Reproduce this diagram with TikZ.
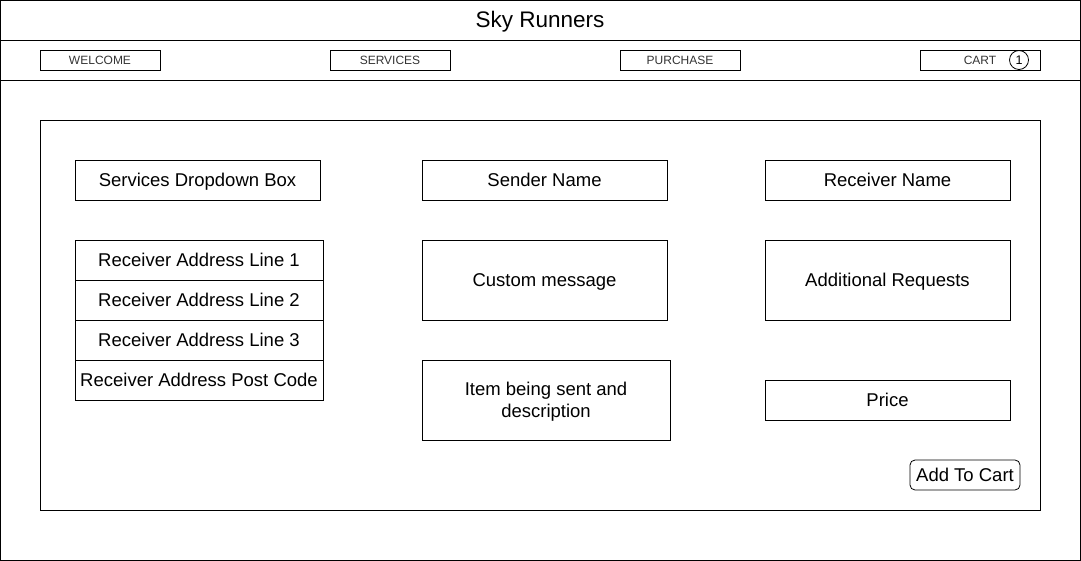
\documentclass[tikz,border=0pt]{standalone}
\usepackage{fontspec}
\setmainfont{Liberation Sans}
\usetikzlibrary{calc}
\definecolor{navtext}{HTML}{333333}
\tikzset{
  field/.style={draw, line width=0.8pt, fill=white, inner sep=1pt, align=center, font=\fontsize{18.5}{21}\selectfont},
  oneline/.style={field, text height=13.3pt, text depth=0pt},
  navbtn/.style={draw, line width=0.8pt, minimum width=120pt, minimum height=20pt, inner sep=0pt, text=navtext, font=\fontsize{12}{14}\selectfont},
}
\begin{document}
\begin{tikzpicture}[x=1pt, y=-1pt]
        \useasboundingbox (0,0) rectangle (1081,561);
        \coordinate (TL) at (0.5, 0.5) {};
        \coordinate (BR) at (1080.5, 560.5) {};
        \draw[line width=0.8pt] (TL) rectangle (BR);
        \draw[line width=0.8pt] (0.5,40)--(1080.5,40);
        \draw[line width=0.8pt] (0.5,80)--(1080.5,80);
        \node[text height=16pt, text depth=0pt, inner sep=0pt, font=\fontsize{22.5}{26}\selectfont] (title) at (540, 20) {Sky Runners};
% navigation bar
        \node[navbtn, text height=8.6pt, text depth=0pt] (welcome) at (100, 60) {WELCOME};
        \node[navbtn, text height=8.6pt, text depth=0pt] (services) at (390, 60) {SERVICES};
        \node[navbtn, text height=8.6pt, text depth=0pt] (purchase) at (680, 60) {PURCHASE};
        \node[navbtn] (cart) at (980, 60) {};
        \node[text=navtext, text height=8.6pt, text depth=0pt, inner sep=0pt, font=\fontsize{12}{14}\selectfont] (carttext) at (980, 60) {CART};
        \node[draw, circle, line width=0.8pt, minimum size=19pt, inner sep=0pt, font=\fontsize{12.5}{14}\selectfont] (count) at (1019, 60) {1};
% form panel
        \coordinate (P1) at (40, 120) {};
        \coordinate (P2) at (1040, 510) {};
        \draw[line width=0.8pt] (P1) rectangle (P2);
        \node[oneline, minimum width=245pt, minimum height=40pt] (dropdown) at (197.5, 180) {Services Dropdown Box};
        \node[oneline, minimum width=245pt, minimum height=40pt] (sender) at (544.5, 180) {Sender Name};
        \node[oneline, minimum width=245pt, minimum height=40pt] (receiver) at (887.5, 180) {Receiver Name};
        \node[oneline, minimum width=248pt, minimum height=40pt] (addr1) at (199, 260) {Receiver Address Line 1};
        \node[oneline, minimum width=248pt, minimum height=40pt] (addr2) at (199, 300) {Receiver Address Line 2};
        \node[oneline, minimum width=248pt, minimum height=40pt] (addr3) at (199, 340) {Receiver Address Line 3};
        \node[oneline, minimum width=248pt, minimum height=40pt] (postcode) at (199, 380) {Receiver Address Post Code};
        \node[oneline, minimum width=245pt, minimum height=80pt] (message) at (544.5, 280) {Custom message};
        \node[oneline, minimum width=245pt, minimum height=80pt] (requests) at (887.5, 280) {Additional Requests};
        \node[field, minimum width=248pt, minimum height=80pt] (item) at (546, 400) {};
        \node[align=center, inner sep=0pt, font=\fontsize{18.5}{22}\selectfont] (itemtext) at ($(item.center)+(0,2)$) {Item being sent and\\description};
        \node[oneline, minimum width=245pt, minimum height=40pt] (price) at (887.5, 400) {Price};
        \node[oneline, rounded corners=5pt, minimum width=110pt, minimum height=30pt] (addcart) at (965, 475) {Add To Cart};
\end{tikzpicture}
\end{document}
